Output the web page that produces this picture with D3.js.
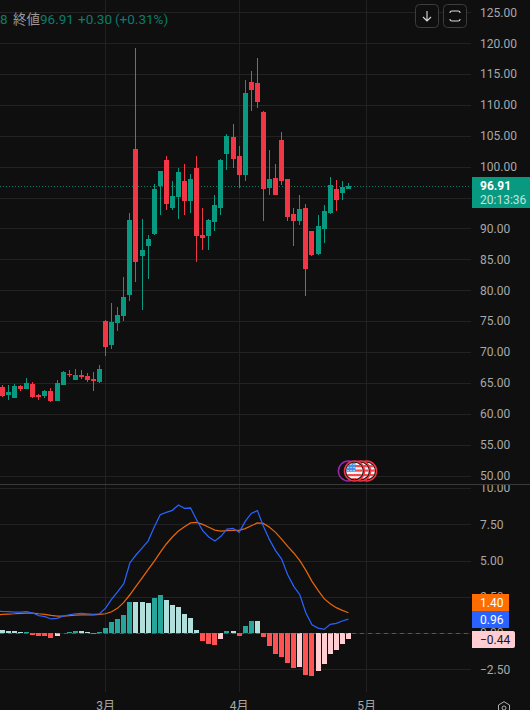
<!DOCTYPE html>
<html><head><meta charset="utf-8">
<script src="https://cdn.jsdelivr.net/npm/d3@7/dist/d3.min.js"></script>
<style>html,body{margin:0;padding:0;background:#0f0f0f;overflow:hidden}svg{display:block}text{font-family:Roboto,"Noto Sans CJK JP",sans-serif}</style>
</head><body><svg id="c" width="530" height="710"></svg>
<script>
const opens=[64.33,63.04,62.55,64.50,64.01,64.82,63.04,62.88,63.69,62.07,64.66,66.44,65.47,66.28,66.12,65.63,65.14,75.02,71.13,74.70,75.83,79.23,102.87,85.54,87.16,89.11,96.88,101.09,93.32,95.10,97.69,94.45,99.79,88.94,88.78,91.05,93.32,102.06,104.81,101.73,98.66,113.71,113.55,108.86,96.55,98.17,104.32,98.01,92.34,91.21,93.32,89.59,85.87,89.91,92.51,96.39,95.74,96.39];
const highs=[64.66,64.66,64.82,64.66,65.79,65.14,63.20,63.85,64.17,65.47,66.92,67.09,67.25,67.09,66.60,66.76,67.90,75.18,77.93,77.29,82.14,92.51,119.22,91.53,88.94,97.20,99.31,101.73,97.69,99.79,100.44,98.82,101.73,93.32,91.53,95.42,101.25,105.30,106.91,103.35,114.04,115.49,117.60,109.02,102.70,100.44,105.62,98.01,93.32,95.42,93.96,89.59,92.18,93.80,98.33,97.85,97.69,97.36];
const lows=[62.72,62.23,62.55,63.69,64.01,62.55,62.23,62.55,61.91,62.07,64.66,65.95,65.47,65.63,65.14,63.69,64.98,69.35,70.49,73.40,75.02,78.26,81.33,76.80,81.82,88.94,92.18,92.99,92.99,91.53,92.18,92.51,84.57,86.51,86.51,89.59,92.18,99.47,99.79,96.55,97.69,109.02,109.50,91.21,95.42,95.42,97.04,91.21,87.16,90.56,79.07,85.54,85.71,87.65,92.34,92.83,94.61,96.39];
const closes=[62.88,63.53,64.50,64.01,64.98,62.72,62.72,63.69,62.07,64.98,66.76,66.28,66.28,65.95,65.47,65.31,67.25,70.81,74.86,75.99,78.91,91.37,84.57,86.51,88.30,96.39,99.31,93.96,95.26,99.14,94.45,98.01,88.78,88.46,91.37,93.80,101.09,104.97,101.25,98.66,111.93,112.42,110.48,96.39,98.01,95.42,97.69,91.86,91.21,93.15,83.44,85.71,90.40,92.83,97.04,94.61,96.72,96.91];
const histogram=[.23,.17,.15,.08,.10,-.11,-.18,-.19,-.32,-.18,.03,.09,.16,.15,.09,-.04,.09,.37,.78,.99,1.26,2.16,2.15,2.14,2.09,2.44,2.64,2.30,1.95,1.82,1.33,1.06,.23,-.53,-.74,-.80,-.39,.16,.15,-.18,.51,.85,.84,-.25,-.87,-1.43,-1.63,-2.05,-2.39,-2.32,-2.87,-2.94,-2.60,-2.11,-1.43,-1.15,-.74,-.44];
// the two line series begin one bar before the first visible candle
const macdLine=[1.52,1.49,1.47,1.45,1.45,1.47,1.38,1.20,1.13,.97,1.01,1.17,1.26,1.33,1.36,1.33,1.29,1.33,1.72,2.34,2.85,3.40,4.83,5.38,5.86,6.34,7.29,8.16,8.32,8.46,8.83,8.60,8.62,7.79,7.06,6.62,6.34,6.67,7.17,7.22,6.94,7.70,8.25,8.44,7.36,6.44,5.68,5.10,4.02,3.22,2.64,1.38,.57,.34,.25,.60,.67,.83,.96];
const signalLine=[1.26,1.29,1.31,1.33,1.36,1.38,1.38,1.33,1.29,1.22,1.17,1.17,1.20,1.24,1.26,1.26,1.26,1.29,1.33,1.47,1.72,2.11,2.64,3.22,3.79,4.37,4.94,5.56,6.14,6.62,7.03,7.33,7.59,7.63,7.49,7.29,7.10,7.03,7.06,7.08,7.08,7.20,7.40,7.59,7.56,7.29,6.94,6.48,5.98,5.52,4.99,4.32,3.56,2.94,2.37,2.02,1.75,1.56,1.40];
const priceGrid=[50,55,60,65,70,75,80,85,90,95,100,105,110,115,120,125];
const priceLabels=[50,55,60,65,70,75,80,85,90,100,105,110,115,120,125];
const macdTicks=[-2.5,0,2.5,5,7.5,10];
const monthLabels=["3月","4月","5月"];
const monthBars=[17,39,60];
const eventBars=[57,60,59,58];
const eventKinds=["purple","red","red","flag"];
const lastPrice=96.91;

const up="#089981",down="#f23645",bg="#0f0f0f",grid="#222222",vgrid="#212121",axisText="#a8a8a8";
const svg=d3.select("#c");
const x=d3.scaleLinear().domain([0,57]).range([1.9,347.9]);
const y=d3.scaleLinear().domain([50,125]).range([475.5,12.3]);
const ym=d3.scaleLinear().domain([-2.5,10]).range([669.3,488]);
const R=471;
const idx=d3.range(opens.length);
svg.append("rect").attr("width",530).attr("height",710).attr("fill",bg);
const defs=svg.append("defs");
defs.append("clipPath").attr("id","pm").append("rect").attr("x",472).attr("y",485).attr("width",58).attr("height",210);
defs.append("clipPath").attr("id","fl").append("circle").attr("r",8.3);

// grid
const px=v=>Math.round(v)+.5;
const g=svg.append("g").attr("shape-rendering","crispEdges");
g.selectAll(".v").data(monthBars).join("line").attr("class","v").attr("x1",d=>px(x(d))).attr("x2",d=>px(x(d))).attr("y1",0).attr("y2",692).attr("stroke",vgrid);
g.selectAll(".h").data(priceGrid).join("line").attr("class","h").attr("x1",0).attr("x2",R).attr("y1",d=>px(y(d))).attr("y2",d=>px(y(d))).attr("stroke",grid);
g.selectAll(".m").data(macdTicks).join("line").attr("class","m").attr("x1",0).attr("x2",R).attr("y1",d=>px(ym(d))).attr("y2",d=>px(ym(d))).attr("stroke",grid);
g.append("line").attr("x1",0).attr("x2",530).attr("y1",484.5).attr("y2",484.5).attr("stroke","#3a3a3a");

// last price dotted line
svg.append("line").attr("x1",0).attr("x2",R).attr("y1",px(y(lastPrice))).attr("y2",px(y(lastPrice))).attr("stroke",up).attr("stroke-opacity",.8).attr("stroke-dasharray","1 2").attr("shape-rendering","crispEdges");

// candles
const c=svg.append("g").attr("shape-rendering","crispEdges");
const col=i=>closes[i]>=opens[i]?up:down;
c.selectAll(".w").data(idx).join("rect").attr("class","w").attr("x",i=>Math.round(x(i))).attr("width",1)
 .attr("y",i=>y(highs[i])).attr("height",i=>y(lows[i])-y(highs[i])).attr("fill",col);
c.selectAll(".b").data(idx).join("rect").attr("class","b").attr("x",i=>Math.round(x(i))-2).attr("width",5)
 .attr("y",i=>y(Math.max(opens[i],closes[i]))).attr("height",i=>Math.max(1,Math.abs(y(opens[i])-y(closes[i])))).attr("fill",col);

// histogram
const hcol=i=>{const v=histogram[i],p=i?histogram[i-1]:v+.01;return v>=0?(v>p?"#26a69a":"#b2dfdb"):(v<p?"#ff5252":"#ffcdd2")};
c.selectAll(".hb").data(idx).join("rect").attr("class","hb").attr("x",i=>Math.round(x(i))-2).attr("width",5)
 .attr("y",i=>Math.min(ym(0),ym(histogram[i]))).attr("height",i=>Math.abs(ym(0)-ym(histogram[i]))).attr("fill",hcol);
svg.append("line").attr("x1",0).attr("x2",R).attr("y1",px(ym(0))).attr("y2",px(ym(0))).attr("stroke","#787878").attr("stroke-opacity",.6).attr("stroke-dasharray","4 4").attr("shape-rendering","crispEdges");

// MACD lines
const ln=d3.line().x((d,i)=>x(i-1)+.5).y(d=>ym(d));
svg.append("path").attr("d",ln(signalLine)).attr("fill","none").attr("stroke","#e8650a").attr("stroke-width",1.25);
svg.append("path").attr("d",ln(macdLine)).attr("fill","none").attr("stroke","#2962ff").attr("stroke-width",1.25);

// event markers
const ev=svg.append("g");
eventBars.forEach((b,k)=>{
  const kind=eventKinds[k];
  const r=ev.append("g").attr("transform",`translate(${x(b)+.5},471)`);
  r.append("circle").attr("r",10).attr("fill","#111").attr("stroke",kind==="purple"?"#9c27b0":down).attr("stroke-width",1.5);
  if(kind==="purple")return;
  const f=r.append("g").attr("clip-path","url(#fl)");
  f.append("rect").attr("x",-9).attr("y",-9).attr("width",18).attr("height",18).attr("fill","#f5f5f5");
  [-6,-1.5,3,7].forEach(s=>f.append("rect").attr("x",-9).attr("y",s).attr("width",18).attr("height",2.2).attr("fill","#ef4a4f"));
  if(kind==="flag"){
    f.append("rect").attr("x",-9).attr("y",-9).attr("width",10).attr("height",9).attr("fill","#4a90e2");
    [-7,-4,-1].forEach(a=>[-7,-4,-1].forEach(b2=>f.append("rect").attr("x",a).attr("y",b2).attr("width",1).attr("height",1).attr("fill","#fff")));
  }
});

// axes
const fmt=v=>d3.format(".2f")(v).replace("-","−");
const a1=svg.append("g").attr("transform",`translate(${R},0)`).call(d3.axisRight(y).tickValues(priceLabels).tickFormat(fmt).tickSize(0).tickPadding(9));
const a2=svg.append("g").attr("clip-path","url(#pm)").append("g").attr("transform",`translate(${R},0)`).call(d3.axisRight(ym).tickValues(macdTicks).tickFormat(fmt).tickSize(0).tickPadding(9));
[a1,a2].forEach(a=>{a.select(".domain").remove();a.selectAll("text").attr("fill",axisText).attr("font-size",12).attr("font-family",'Roboto,sans-serif');});

const xa=svg.append("g");
xa.selectAll("text").data(monthBars).join("text").attr("x",d=>x(d)+.5).attr("y",710).attr("text-anchor","middle").attr("font-size",12).attr("fill",axisText).text((d,i)=>monthLabels[i]);

// value boxes
const box=(yy,h,w,fill,txt,tc,rx)=>{
  svg.append("path").attr("d",`M472,${yy}H${472+w-rx}Q${472+w},${yy} ${472+w},${yy+rx}V${yy+h-rx}Q${472+w},${yy+h} ${472+w-rx},${yy+h}H472Z`).attr("fill",fill);
  svg.append("text").attr("x",480).attr("y",yy+h/2+4.3).attr("font-size",12).attr("fill",tc).text(txt);
};
box(594,17,37,"#ff6d00",d3.format(".2f")(signalLine[58]),"#fff",0);
box(611,17,37,"#2962ff",d3.format(".2f")(macdLine[58]),"#fff",0);
box(631,17,43,"#ffcdd2",fmt(histogram[57]),"#131722",2);
svg.append("rect").attr("x",472).attr("y",177).attr("width",58).attr("height",31).attr("fill",up);
svg.append("text").attr("x",480).attr("y",190).attr("font-size",12).attr("font-weight",700).attr("fill","#fff").text(d3.format(".2f")(lastPrice));
svg.append("text").attr("x",480).attr("y",204).attr("font-size",12).attr("fill","#fff").attr("fill-opacity",.75).text("20:13:36");

// header legend
const leg=svg.append("g").attr("font-size",13.5);
leg.append("text").attr("x",0).attr("y",24).attr("fill","#0a7d6b").text("8");
leg.append("text").attr("x",13).attr("y",24).attr("fill","#9a9a9a").text("終値");
leg.append("text").attr("x",40).attr("y",24).attr("fill","#0a7d6b").text("96.91");
leg.append("text").attr("x",78).attr("y",24).attr("fill","#0a7d6b").text("+0.30");
leg.append("text").attr("x",115).attr("y",24).attr("fill","#0a7d6b").text("(+0.31%)");

// buttons
[415.5,443.5].forEach(bx=>svg.append("rect").attr("x",bx).attr("y",4.5).attr("width",23).attr("height",23).attr("rx",4).attr("fill",bg).attr("stroke","#3c3c3c"));
svg.append("path").attr("d","M427,11V21M423,17L427,21L431,17").attr("fill","none").attr("stroke","#dcdcdc").attr("stroke-width",1.1);
svg.append("path").attr("d","M450,13V12.5Q450,11 452,11H458Q460,11 460,12.5V13M450,19V19.5Q450,21 452,21H458Q460,21 460,19.5V19").attr("fill","none").attr("stroke","#dcdcdc").attr("stroke-width",1.1);

// settings icon
const gear=svg.append("g").attr("transform","translate(504,708)").attr("fill","none").attr("stroke","#b0b0b0").attr("stroke-width",1);
gear.append("path").attr("d","M-5.5,-3L0,-6.3L5.5,-3V3L0,6.3L-5.5,3Z");
gear.append("circle").attr("r",2);
</script></body></html>
